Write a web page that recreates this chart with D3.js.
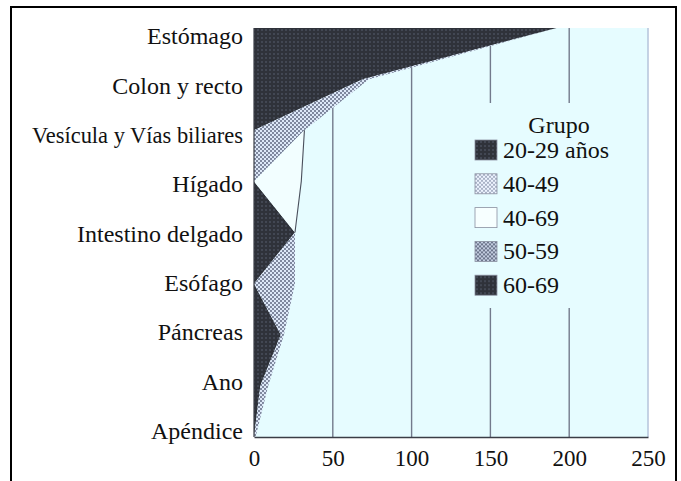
<!DOCTYPE html>
<html><head><meta charset="utf-8">
<script src="https://cdn.jsdelivr.net/npm/d3@7"></script>
<style>html,body{margin:0;padding:0;background:#fff;} svg{display:block}</style>
</head><body><svg id="c" width="681" height="481"></svg>
<script>
const categories = ["Estómago","Colon y recto","Vesícula y Vías biliares","Hígado","Intestino delgado","Esófago","Páncreas","Ano","Apéndice"];
const groups = ["20-29 años","40-49","40-69","50-59","60-69"];
const g2029 = [192,69,0,0,26,0,17,4,0];
const g4049 = [0,4,32,0,0,26,2,5,1];
const g4069 = [0,0,0,30,0,0,0,0,0];
const g5059 = [0,0,0,0,0,0,0,0,0];
const g6069 = [0,0,0,0,0,0,0,0,0];
const xTicks = [0,50,100,150,200,250];
const legendTitle = "Grupo";

const seriesVals = [g2029,g4049,g4069,g5059,g6069];
const rows = categories.map((c,i)=>{const r={cat:c}; groups.forEach((g,k)=>r[g]=seriesVals[k][i]); return r;});

const svg = d3.select("#c");
const font = "'Liberation Serif','Times New Roman',serif";
const bg = "#e6fcff";

// patterns
const defs = svg.append("defs");
const pd = defs.append("pattern").attr("id","dark").attr("width",4).attr("height",4).attr("patternUnits","userSpaceOnUse");
pd.append("rect").attr("width",4).attr("height",4).attr("fill","#2f323a");
pd.append("circle").attr("cx",2).attr("cy",2).attr("r",0.8).attr("fill","#5a6272");
const pl = defs.append("pattern").attr("id","light").attr("width",4).attr("height",4).attr("patternUnits","userSpaceOnUse");
pl.append("rect").attr("width",4).attr("height",4).attr("fill","#dde8f8");
pl.append("rect").attr("width",2).attr("height",2).attr("fill","#7f889e");
pl.append("rect").attr("x",2).attr("y",2).attr("width",2).attr("height",2).attr("fill","#7f889e");
const pm = defs.append("pattern").attr("id","med").attr("width",4).attr("height",4).attr("patternUnits","userSpaceOnUse");
pm.append("rect").attr("width",4).attr("height",4).attr("fill","#c3cde0");
pm.append("rect").attr("width",2).attr("height",2).attr("fill","#6d768c");
pm.append("rect").attr("x",2).attr("y",2).attr("width",2).attr("height",2).attr("fill","#6d768c");
const pl2 = defs.append("pattern").attr("id","light2").attr("width",4).attr("height",4).attr("patternUnits","userSpaceOnUse");
pl2.append("rect").attr("width",4).attr("height",4).attr("fill","#eef4ff");
pl2.append("rect").attr("width",2).attr("height",2).attr("fill","#a9b2c6");
pl2.append("rect").attr("x",2).attr("y",2).attr("width",2).attr("height",2).attr("fill","#a9b2c6");

const fills = ["url(#dark)","url(#light)","#f2feff","url(#med)","url(#dark)"];
const legFills = ["url(#dark)","url(#light2)","#f7ffff","url(#med)","url(#dark)"];

// frame
svg.append("rect").attr("x",11).attr("y",7).attr("width",665).attr("height",500)
  .attr("fill","none").attr("stroke","#000").attr("stroke-width",2);

const x = d3.scaleLinear().domain([0,250]).range([254,648]);
const y = d3.scalePoint().domain(categories).range([28,437]);
const yLab = d3.scalePoint().domain(categories).range([36,431]);

// plot background
svg.append("rect").attr("x",x(0)).attr("y",28).attr("width",x(250)-x(0)).attr("height",437-28).attr("fill",bg);

// gridlines
svg.append("g").selectAll("line").data(xTicks.filter(t=>t>0&&t<250)).join("line")
  .attr("x1",d=>x(d)).attr("x2",d=>x(d)).attr("y1",28).attr("y2",437)
  .attr("stroke","#737a8c").attr("stroke-width",1.4);
svg.append("line").attr("x1",x(250)).attr("x2",x(250)).attr("y1",28).attr("y2",437)
  .attr("stroke","#b9c7de").attr("stroke-width",1.6);

// stacked areas
const stack = d3.stack().keys(groups)(rows);
const area = d3.area().y(d=>y(d.data.cat)).x0(d=>x(d[0])).x1(d=>x(d[1]));
svg.append("g").selectAll("path").data(stack).join("path")
  .attr("d",area).attr("fill",(d,i)=>fills[i]).attr("stroke","none");
// outline on top of white series
const topLine = d3.line().y(d=>y(d.data.cat)).x(d=>x(d[1]));
const wIdx = 2;
svg.append("path").attr("d",topLine(stack[wIdx].slice(2,5))).attr("fill","none")
  .attr("stroke","#4a4f5c").attr("stroke-width",1.1);

// legend box
svg.append("rect").attr("x",462).attr("y",103).attr("width",166).attr("height",205).attr("fill",bg);
svg.append("text").attr("x",559).attr("y",133).attr("text-anchor","middle")
  .attr("font-family",font).attr("font-size",24).attr("fill","#111").text(legendTitle);
const lg = svg.append("g").selectAll("g").data(groups).join("g")
  .attr("transform",(d,i)=>`translate(475,${140+i*33.8})`);
lg.append("rect").attr("width",22).attr("height",20).attr("fill",(d,i)=>legFills[i])
  .attr("stroke","#8a90a0").attr("stroke-width",0.8);
lg.append("text").attr("x",28).attr("y",18).attr("font-family",font).attr("font-size",24)
  .attr("fill","#111").text(d=>d);

// axes
const xAxis = svg.append("g").attr("transform","translate(0,437)")
  .call(d3.axisBottom(x).tickValues(xTicks).tickSize(0).tickPadding(13).tickFormat(d3.format("d")));
xAxis.select(".domain").attr("stroke","#3a3d46").attr("stroke-width",1.6);
xAxis.selectAll("text").attr("font-family",font).attr("font-size",23).attr("fill","#111");

const yAxis = svg.append("g").attr("transform","translate(243,0)")
  .call(d3.axisLeft(yLab).tickSize(0).tickPadding(0));
yAxis.select(".domain").remove();
yAxis.selectAll("text").attr("font-family",font).attr("font-size",24).attr("fill","#111")
  .filter(d=>d==="Vesícula y Vías biliares").attr("textLength",211).attr("lengthAdjust","spacingAndGlyphs");

svg.append("line").attr("x1",x(0)).attr("x2",x(0)).attr("y1",28).attr("y2",437)
  .attr("stroke","#3a3d46").attr("stroke-width",1.2);
</script></body></html>
